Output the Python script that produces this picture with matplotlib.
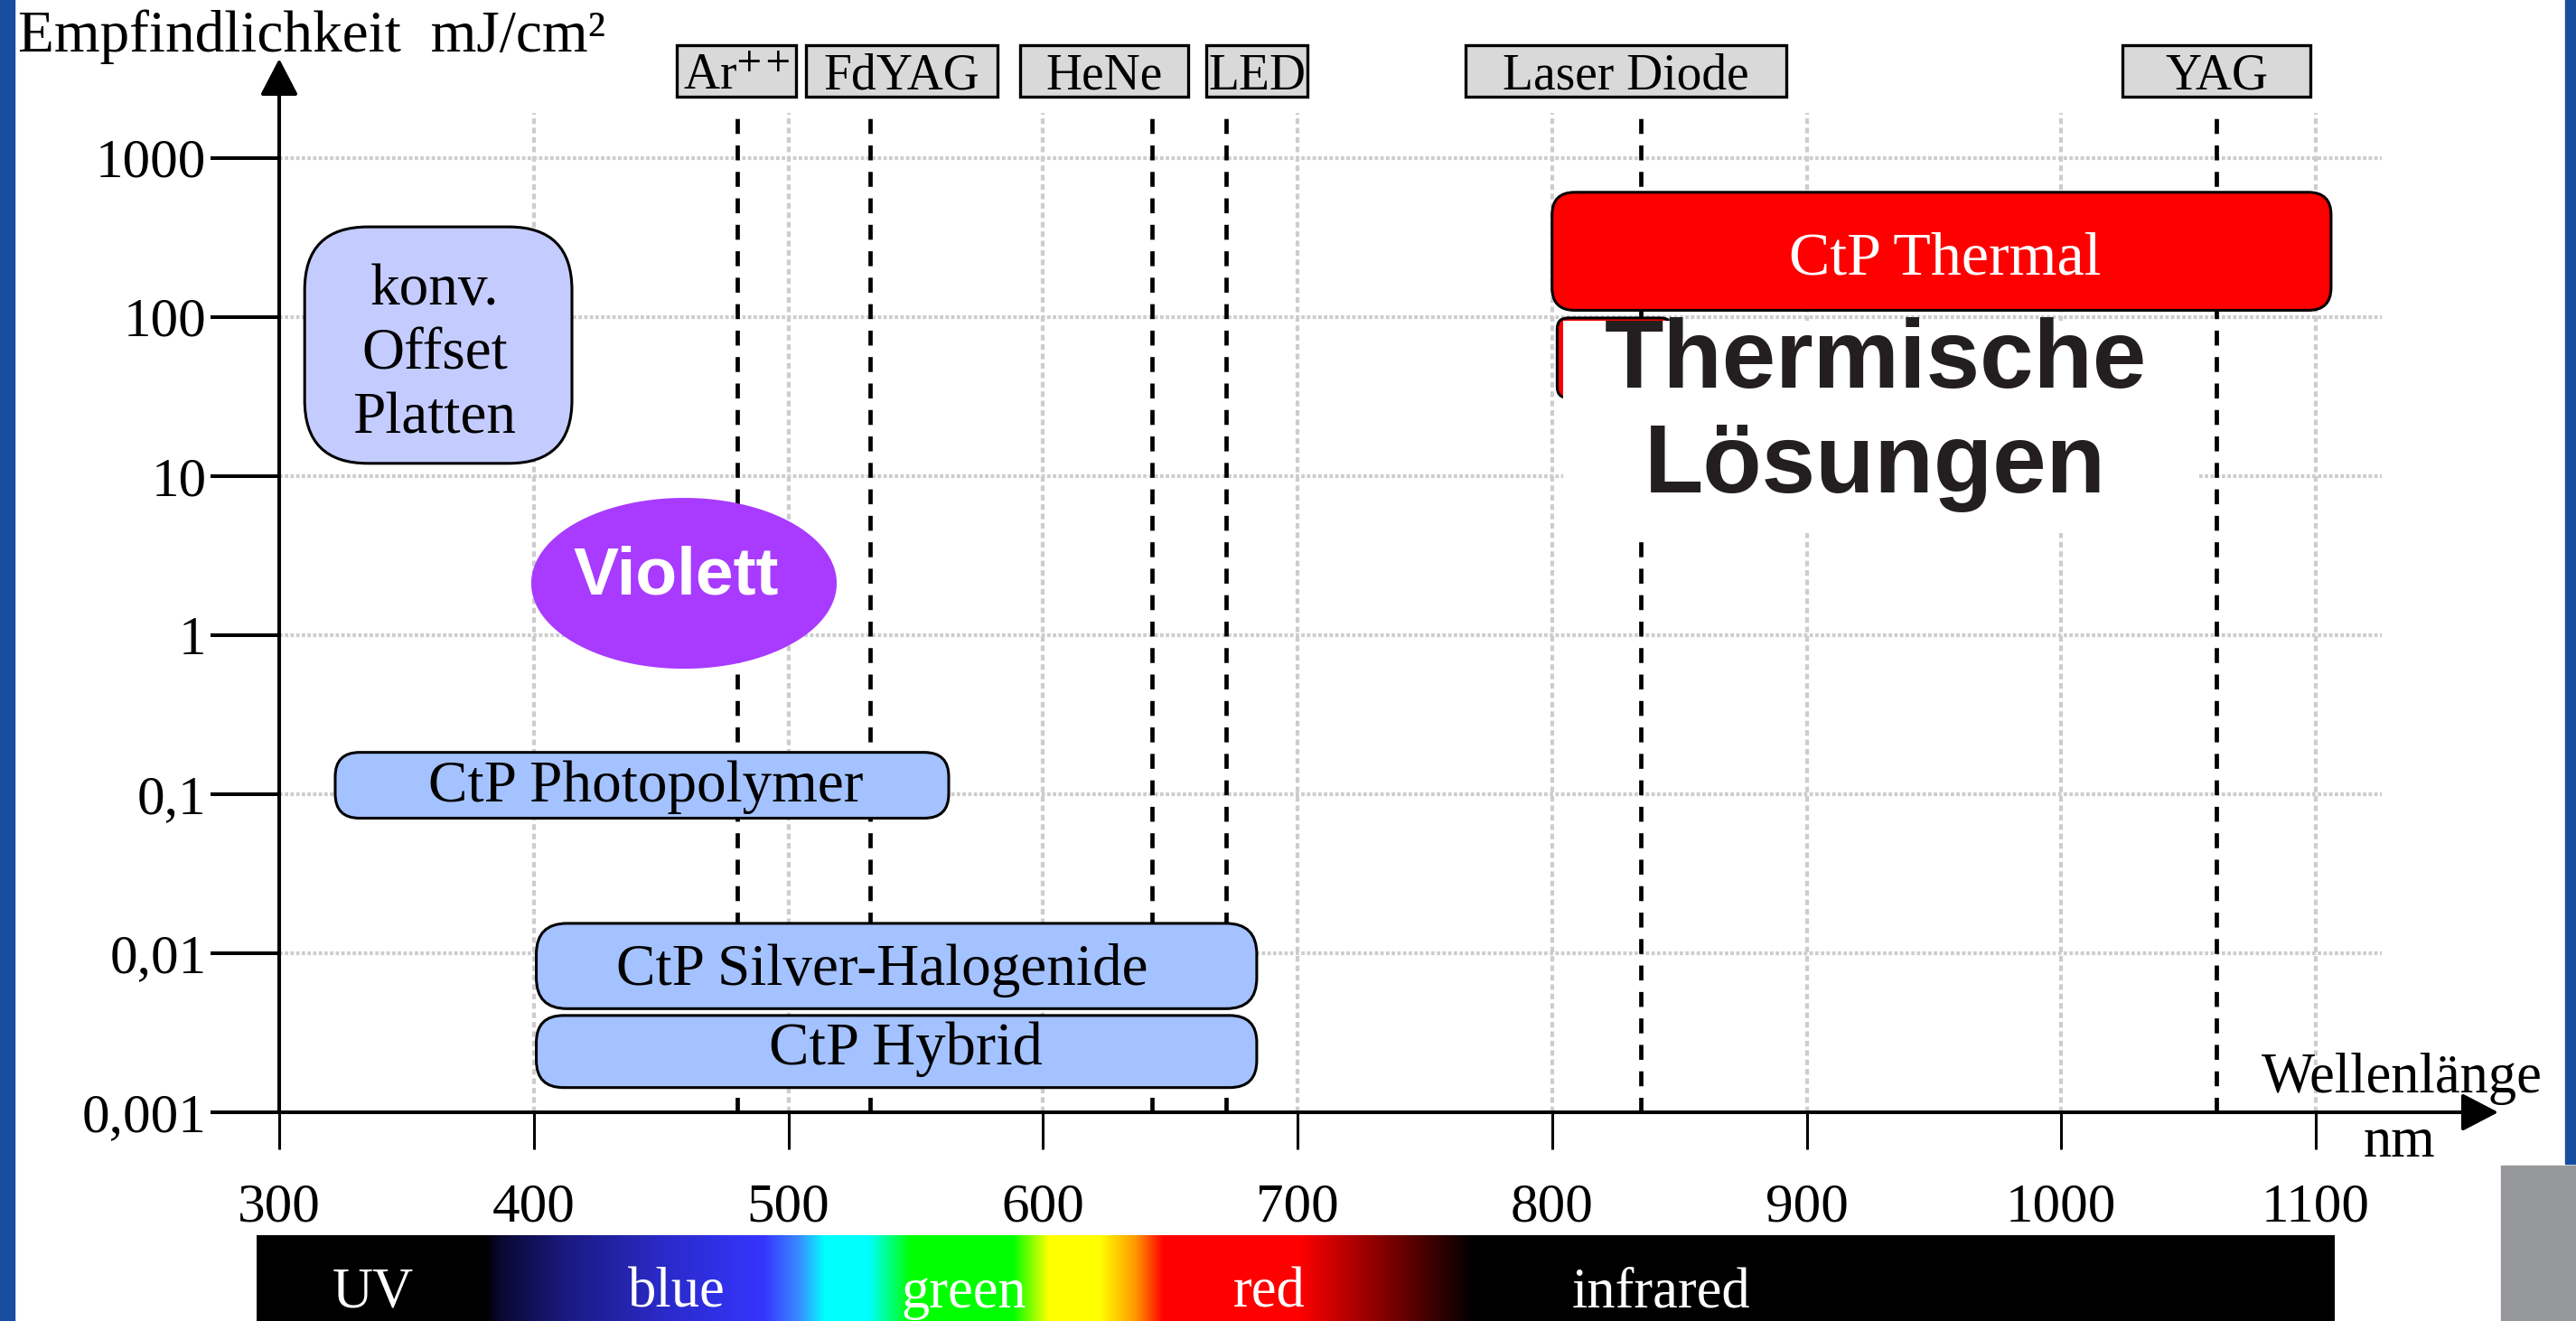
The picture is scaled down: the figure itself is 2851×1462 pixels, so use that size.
import numpy as np
import matplotlib.pyplot as plt
from matplotlib.patches import FancyBboxPatch, Rectangle
from matplotlib.transforms import IdentityTransform
from matplotlib.colors import LinearSegmentedColormap
from matplotlib.ticker import NullLocator

plt.rcParams['font.family'] = ['Liberation Serif', 'DejaVu Serif']
plt.rcParams['mathtext.fontset'] = 'stix'

W, H, DPI = 2851, 1462, 100

# axes
x_ticks = [300, 400, 500, 600, 700, 800, 900, 1000, 1100]
y_ticks = [0.001, 0.01, 0.1, 1, 10, 100, 1000]
y_labels = ['0,001', '0,01', '0,1', '1', '10', '100', '1000']

# lasers (nm) and their label boxes
laser_names = [r'Ar$^{++}$', 'FdYAG', 'HeNe', 'LED', 'Laser Diode', 'YAG']
laser_nm = [480, 532, 643, 672, 835, 1061]
laser_box_lo = [456, 507, 591, 664, 766, 1024]
laser_box_hi = [503, 582, 657, 704, 892, 1098]

# plate technologies: wavelength range and sensitivity range (mJ/cm2)
proc_names = ['konv.\nOffset\nPlatten', 'CtP Photopolymer', 'CtP Silver-Halogenide',
              'CtP Hybrid', 'CtP Thermal']
proc_nm_lo = [310, 322, 401, 401, 800]
proc_nm_hi = [415, 563, 684, 684, 1106]
proc_lo = [12, 0.0706, 0.00448, 0.00143, 110]
proc_hi = [368, 0.183, 0.0154, 0.00406, 607]
proc_label_nm = [361, 444, 537, 546, 954.5]
proc_label_base = [119.7, 0.090, 0.00632, 0.00200, 186.6]
proc_colors = ['#c4ccff', '#a4c2ff', '#a4c2ff', '#a4c2ff', '#ff0000']
proc_tcolors = ['black', 'black', 'black', 'black', 'white']
proc_fsize = [47, 47, 47, 48, 49]
proc_radius = [70, 27, 34, 30, 25]

violett_nm = (399, 519)
violett_sens = (0.614, 7.28)

# spectrum bar
spec_nm = [291, 381, 386, 412, 450, 490, 504, 514, 531, 548, 588, 602, 622, 636, 647, 700, 769, 1107]
spec_col = ['#000000', '#000000', '#08082e', '#1a1a80', '#2a2ac8', '#3535ff', '#3a8cff', '#00ffff',
            '#00ffff', '#00ff00', '#00ff00', '#ffff00', '#ffff00', '#ff9900', '#ff0000', '#ff0000',
            '#000000', '#000000']
spec_labels = ['UV', 'blue', 'green', 'red', 'infrared']
spec_label_nm = [337, 456, 569, 689, 843]

fig = plt.figure(figsize=(W / DPI, H / DPI), dpi=DPI)
fig.patch.set_facecolor('white')

x0_px, y0_px = 309, 1231
px_nm, px_dec = 2.8175, 176.06
ax = fig.add_axes([x0_px / W, (H - y0_px) / H, 1 - x0_px / W, y0_px / H])
ax.set_yscale('log')
ax.set_xlim(300, 300 + (W - x0_px) / px_nm)
ax.set_ylim(1e-3, 10 ** (-3 + y0_px / px_dec))
for s in ax.spines.values():
    s.set_visible(False)
ax.patch.set_alpha(0)

ax.set_xticks(x_ticks, [str(v) for v in x_ticks])
ax.set_yticks(y_ticks, y_labels)
ax.yaxis.set_minor_locator(NullLocator())
ax.tick_params(axis='y', length=55, width=2.9, pad=3, labelsize=44)
ax.tick_params(axis='x', length=29.5, width=2.2, pad=27, labelsize=44)

arrow = dict(arrowstyle='-|>,head_length=1,head_width=0.52', mutation_scale=25,
             lw=2.9, color='black', shrinkA=0, shrinkB=0)
ax.annotate('', xy=(300, 4198), xytext=(300, 1e-3), arrowprops=arrow, annotation_clip=False)
ax.annotate('', xy=(1171.7, 1e-3), xytext=(300, 1e-3), arrowprops=arrow, annotation_clip=False)

# grid
ax.vlines(x_ticks[1:], 1e-3, 1915, colors='#cdcdcd', lw=3, linestyles=(0, (1.5, 1.0)), zorder=1)
ax.hlines(y_ticks[1:], 300, 1126, colors='#cdcdcd', lw=3, linestyles=(0, (0.9, 0.6)), zorder=1)

# laser lines and labels
ax.vlines(laser_nm, 1e-3, 1990, colors='black', lw=3.4, linestyles=(0, (3.5, 2.7)), zorder=2)
for name, lo, hi in zip(laser_names, laser_box_lo, laser_box_hi):
    ax.add_patch(Rectangle((lo, 2421), hi - lo, 5105 - 2421, fc='#d9d9d9', ec='black',
                           lw=2.4, zorder=5, clip_on=False))
    ax.text((lo + hi) / 2, 2692, name, ha='center', va='baseline', fontsize=40, zorder=6)


def px_box(x_lo, x_hi, y_lo, y_hi, rad, fc, z, lw=2.2):
    a, b = ax.transData.transform((x_lo, y_lo))
    c, d = ax.transData.transform((x_hi, y_hi))
    p = FancyBboxPatch((a, b), c - a, d - b, boxstyle=f'round,pad=0,rounding_size={rad}',
                       fc=fc, ec='black', lw=lw, transform=IdentityTransform(),
                       zorder=z, clip_on=False)
    ax.add_artist(p)


line_step = 71.5 / px_dec  # decades between text lines
for i, name in enumerate(proc_names):
    px_box(proc_nm_lo[i], proc_nm_hi[i], proc_lo[i], proc_hi[i], proc_radius[i], proc_colors[i], 4)
    for k, line in enumerate(name.split('\n')):
        ax.text(proc_label_nm[i], 10 ** (np.log10(proc_label_base[i]) - k * line_step), line,
                ha='center', va='baseline', fontsize=proc_fsize[i],
                color=proc_tcolors[i], zorder=6)

# Violett ellipse
t = np.linspace(0, 2 * np.pi, 300)
cx, a = np.mean(violett_nm), (violett_nm[1] - violett_nm[0]) / 2
ly = np.mean(np.log10(violett_sens))
b = (np.log10(violett_sens[1]) - np.log10(violett_sens[0])) / 2
ax.fill(cx + a * np.cos(t), 10 ** (ly + b * np.sin(t)), color='#a83bff', lw=0, zorder=4)
ax.text(456, 2.33, 'Violett', ha='center', va='center', color='white', fontsize=54,
        family=['Liberation Sans', 'DejaVu Sans'], weight='bold', zorder=6)

# thermal solutions block
px_box(802, 847, 31, 98.4, 12, '#ff0000', 4.5)
ax.add_patch(Rectangle((804.5, 4.375), 1053.5 - 804.5, 94.5 - 4.375, fc='white', ec='none', zorder=4.6))
for txt, yy in [('Thermische', 35.9), ('Lösungen', 7.87)]:
    ax.text(927, yy, txt, ha='center', va='baseline', color='#231f20', fontsize=77,
            family=['Liberation Sans', 'DejaVu Sans'], weight='bold', zorder=7)

ax.text(1133.7, 0.00133, 'Wellenlänge', ha='center', va='baseline', fontsize=45)
ax.text(1132.7, 0.000527, 'nm', ha='center', va='baseline', fontsize=45)
fig.text(20 / W, 1 - 57 / H, 'Empfindlichkeit  mJ/cm²', fontsize=47, ha='left', va='baseline')

# spectrum bar
spec = fig.add_axes([0, 0, 1, (H - 1367) / H])
spec.set_xlim(300 - x0_px / px_nm, 300 + (W - x0_px) / px_nm)
spec.set_ylim(0, 1)
spec.axis('off')
pos = (np.array(spec_nm) - spec_nm[0]) / (spec_nm[-1] - spec_nm[0])
cmap = LinearSegmentedColormap.from_list('spec', list(zip(pos, spec_col)), N=4096)
spec.imshow(np.linspace(0, 1, 2400)[None, :], cmap=cmap, aspect='auto',
            extent=(spec_nm[0], spec_nm[-1], 0, 1), interpolation='bilinear')
for lab, nm in zip(spec_labels, spec_label_nm):
    spec.text(nm, 0.16, lab, ha='center', va='baseline', color='white', fontsize=45)

# slide frame bits
fig.add_artist(Rectangle((0, 0), 16 / W, 1, transform=fig.transFigure, color='#174ea0', zorder=10))
fig.add_artist(Rectangle((2839 / W, (H - 1288) / H), 12 / W, 1288 / H, transform=fig.transFigure,
                         color='#174ea0', zorder=10))
fig.add_artist(Rectangle((2768 / W, 0), 83 / W, (H - 1290) / H, transform=fig.transFigure,
                         color='#97989c', zorder=10))

fig.savefig('out.png', dpi=DPI)
